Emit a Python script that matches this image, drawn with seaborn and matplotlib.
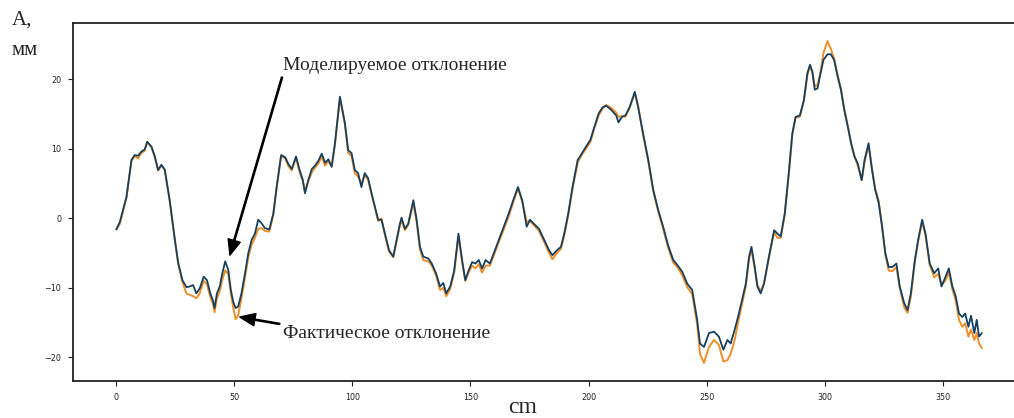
import matplotlib
matplotlib.use("Agg")
import pandas as pd
import seaborn as sns
import matplotlib.pyplot as plt

# distance along the track, cm
x_cm = [0, 1.5, 4.3, 6.4, 7.8, 9.2, 10.6, 12, 13.1, 14.9, 16.3, 17.7, 19.1, 20.5, 22.6, 24.8,
        26.2, 28.0, 29.7, 31.1, 32.5, 33.9, 35.3, 37.0, 38.4, 39.8, 40.9, 41.6, 42.6, 43.8,
        44.9, 46.1, 47.4, 48.5, 49.5, 50.5, 51.6, 53.0, 54.5, 55.9, 57.3, 58.7, 60.1, 61.5,
        62.9, 64.8, 66.5, 67.9, 69.8, 71.5, 72.9, 74.3, 76.1, 77.5, 79.0, 79.9, 81.3, 82.8,
        84.2, 85.6, 87.0, 88.4, 89.8, 91.2, 92.6, 94.7, 96.8, 98.2, 99.6, 101.0, 102.4, 103.8,
        105.2, 106.6, 108.1, 109.5, 110.9, 112.3, 113.7, 115.5, 117.3, 118.7, 120.1, 120.8,
        122.2, 123.6, 125.8, 127.2, 128.6, 130.0, 132.2, 133.6, 135.4, 137.1, 138.5, 139.7,
        141.4, 143.1, 144.9, 146.4, 147.8, 149.2, 150.7, 152.1, 153.5, 154.9, 156.4, 158.2,
        159.9, 162.0, 164.1, 166.2, 168.1, 170.1, 171.9, 173.8, 175.2, 176.9, 179.0, 181.2,
        183.3, 184.7, 186.6, 188.3, 189.7, 191.4, 193.2, 195.4, 197.1, 198.9, 200.8, 202.5,
        204.3, 206.0, 207.5, 209.6, 211.7, 212.7, 214.1, 215.6, 217.4, 219.6, 221.0, 223.1,
        225.3, 227.4, 229.5, 231.6, 233.7, 235.9, 237.6, 239.7, 241.8, 243.9, 246.0, 247.2,
        248.9, 251.0, 253.1, 255.2, 257.1, 258.8, 260.2, 261.9, 263.3, 264.7, 266.6, 268.0,
        269.0, 270.4, 271.5, 272.9, 274.3, 276.4, 278.6, 280.0, 281.4, 283.1, 284.8, 286.3,
        287.7, 289.5, 291.2, 292.7, 293.8, 294.8, 295.8, 297.0, 298.1, 299.5, 301.2, 302.6,
        304.0, 305.5, 306.9, 308.3, 309.8, 311.2, 312.6, 314.0, 315.7, 316.9, 318.6, 320.0,
        321.4, 322.9, 324.3, 325.7, 327.1, 328.7, 330.4, 331.8, 333.7, 335.1, 336.5, 338.2,
        339.6, 341.3, 342.7, 344.5, 346.4, 348.1, 349.5, 351.2, 352.6, 354.1, 355.5, 356.9,
        358.3, 359.5, 360.9, 362.0, 363.4, 364.4, 365.4, 366.6]

# modelled deviation, mm
modelled = [-1.6, -0.5, 3.1, 8.4, 9.1, 9.0, 9.6, 9.9, 11.0, 10.3, 8.9, 6.95, 7.7, 7.0, 2.6, -3.1,
            -6.4, -8.9, -9.9, -9.8, -9.6, -10.8, -10.1, -8.4, -8.9, -10.8, -11.8, -12.9, -10.8, -9.8,
            -7.9, -6.2, -7.4, -10.3, -12.0, -12.9, -12.7, -10.8, -7.9, -5.0, -3.1, -2.2, -0.2, -0.7,
            -1.4, -1.6, 0.7, 4.5, 9.1, 8.8, 7.8, 7.1, 8.9, 7.1, 5.5, 3.6, 5.5, 7.1,
            7.6, 8.3, 9.3, 8.0, 8.5, 7.4, 10.8, 17.5, 13.7, 9.8, 9.4, 6.95, 6.5, 4.5,
            6.5, 5.8, 3.6, 1.7, -0.2, -0.2, -2.1, -4.6, -5.5, -3.1, -0.8, 0.1,
            -1.5, -0.8, 2.6, -0.2, -4.1, -5.5, -5.8, -6.5, -7.9, -9.8, -9.3, -10.8,
            -9.8, -7.5, -2.2, -5.9, -8.9, -7.5, -6.3, -6.5, -6.0, -7.2, -6.0, -6.5,
            -5.0, -3.1, -1.2, 0.7, 2.6, 4.5, 2.6, -1.2, -0.2, -0.8, -1.5, -3.1,
            -4.6, -5.3, -4.6, -4.1, -2.2, 0.7, 4.5, 8.4, 9.3, 10.3, 11.3, 13.2,
            15.1, 16.0, 16.2, 15.6, 14.8, 13.8, 14.6, 14.8, 16.0, 18.2, 16.0, 12.2,
            8.4, 4.1, 1.2, -1.2, -3.9, -6.0, -6.7, -7.7, -9.4, -10.3, -14.6, -18.0,
            -18.5, -16.5, -16.3, -17.0, -18.9, -17.5, -18.0, -16.0, -14.2, -12.2, -9.4, -5.5,
            -4.1, -7.0, -9.8, -10.8, -9.4, -5.5, -1.7, -2.2, -2.6, 0.7, 6.5, 12.2,
            14.6, 14.8, 17.0, 20.9, 22.1, 21.1, 18.5, 18.7, 20.6, 22.8, 23.6, 23.6,
            22.8, 20.4, 18.5, 15.6, 13.2, 10.8, 8.9, 7.9, 5.5, 8.4, 10.8, 7.1,
            4.1, 2.2, -1.2, -5.0, -7.0, -7.0, -6.5, -9.8, -12.2, -13.2, -10.8, -6.0,
            -3.1, -0.2, -2.2, -6.5, -7.9, -7.2, -9.8, -8.4, -7.2, -9.8, -11.2, -13.7,
            -14.2, -13.7, -15.6, -14.0, -16.5, -14.6, -17.0, -16.5]

# measured (actual) deviation, mm
actual = [-1.6, -0.8, 3.0, 8.2, 9.0, 8.6, 9.4, 9.7, 11.0, 10.2, 8.8, 6.9, 7.6, 7.0, 2.5, -3.2,
          -6.5, -9.2, -10.8, -11.0, -11.2, -11.5, -10.8, -9.0, -9.5, -11.3, -12.3, -13.5, -11.5, -10.5,
          -8.8, -7.5, -8.0, -10.8, -12.8, -14.5, -14.0, -11.5, -8.5, -5.6, -3.8, -2.8, -1.5, -1.4,
          -1.8, -1.9, 0.5, 4.4, 9.0, 8.6, 7.5, 6.9, 8.7, 6.8, 5.3, 3.8, 5.3, 6.6,
          7.3, 7.9, 8.9, 7.6, 8.2, 7.5, 10.6, 17.3, 13.5, 9.4, 9.0, 6.5, 6.0, 5.0,
          6.2, 5.6, 3.4, 1.5, -0.4, 0.0, -2.3, -4.8, -5.6, -3.3, -1.0, -0.3,
          -1.7, -1.0, 2.2, -0.6, -4.5, -6.0, -6.2, -6.8, -8.2, -10.3, -10.0, -11.2,
          -10.2, -7.8, -2.6, -6.2, -9.0, -7.8, -6.8, -7.2, -6.6, -7.8, -6.8, -6.8,
          -5.3, -3.4, -1.6, 0.3, 2.3, 4.3, 2.4, -0.5, -0.4, -1.0, -1.8, -3.4,
          -5.0, -5.9, -5.0, -4.4, -2.5, 0.4, 4.2, 8.0, 9.1, 10.0, 11.0, 13.0,
          14.8, 15.8, 16.3, 15.9, 15.2, 14.6, 14.7, 14.6, 15.9, 18.0, 16.2, 12.0,
          8.2, 3.9, 1.0, -1.5, -4.2, -6.4, -7.0, -8.2, -9.9, -10.9, -15.2, -19.5,
          -20.8, -18.5, -17.5, -18.2, -20.6, -20.4, -19.5, -17.5, -15.0, -12.8, -9.8, -5.8,
          -4.5, -7.3, -9.6, -10.5, -9.4, -5.7, -2.0, -2.8, -2.8, 0.5, 6.3, 12.0,
          14.5, 14.6, 16.9, 20.6, 21.9, 21.0, 19.0, 19.2, 20.8, 23.8, 25.5, 24.4,
          23.0, 20.6, 18.6, 15.7, 13.3, 10.8, 9.0, 7.6, 5.5, 8.1, 10.5, 7.3,
          4.3, 2.5, -1.0, -5.2, -7.5, -7.6, -7.0, -10.0, -12.8, -13.6, -11.3, -6.3,
          -3.3, -0.5, -2.4, -6.7, -8.5, -8.0, -9.6, -8.9, -7.8, -10.2, -11.8, -14.6,
          -15.6, -15.1, -17.0, -16.0, -17.5, -16.5, -18.0, -18.7]

x_ticks = [0, 50, 100, 150, 200, 250, 300, 350]
y_ticks = [-20, -10, 0, 10, 20]

df = pd.DataFrame({'cm': x_cm, 'modelled': modelled, 'actual': actual})

sns.set_style('ticks')
plt.rcParams['font.family'] = ['DejaVu Sans']

fig = plt.figure(figsize=(10.14, 4.18), dpi=100)
ax = fig.add_axes([0.072, 0.0885, 0.94, 0.8565])

sns.lineplot(data=df, x='cm', y='actual', ax=ax, color='#ee8f2a', linewidth=1.4)
sns.lineplot(data=df, x='cm', y='modelled', ax=ax, color='#17405f', linewidth=1.3)

ax.set_xlim(-18.35, 385.35)
ax.set_ylim(-23.4, 28.1)
ax.set_xticks(x_ticks)
ax.set_yticks(y_ticks)
ax.tick_params(labelsize=5.8, length=3.5, width=0.8, colors='#222222', pad=5)
ax.set_xlabel('')
ax.set_ylabel('')
for s in ax.spines.values():
    s.set_color('#222222')
    s.set_linewidth(1.3)

serif = ['Liberation Serif', 'DejaVu Serif']
arrow = dict(facecolor='black', edgecolor='black', width=0.9, headwidth=9, headlength=11, shrink=0)
ax.annotate('Моделируемое отклонение', xy=(48.1, -5.3), xytext=(70.6, 22.0),
            fontsize=14, family=serif, ha='left', va='center', arrowprops=arrow)
ax.annotate('Фактическое отклонение', xy=(52.3, -14.2), xytext=(70.6, -16.5),
            fontsize=14, family=serif, ha='left', va='center', arrowprops=arrow)

fig.text(0.012, 0.952, 'A,', fontsize=15, family=serif, ha='left', va='center')
fig.text(0.011, 0.878, 'мм', fontsize=15, family=serif, ha='left', va='center')
fig.text(0.515, 0.0, 'cm', fontsize=17, family=serif, ha='center', va='bottom')

fig.savefig('out.png', dpi=100)
